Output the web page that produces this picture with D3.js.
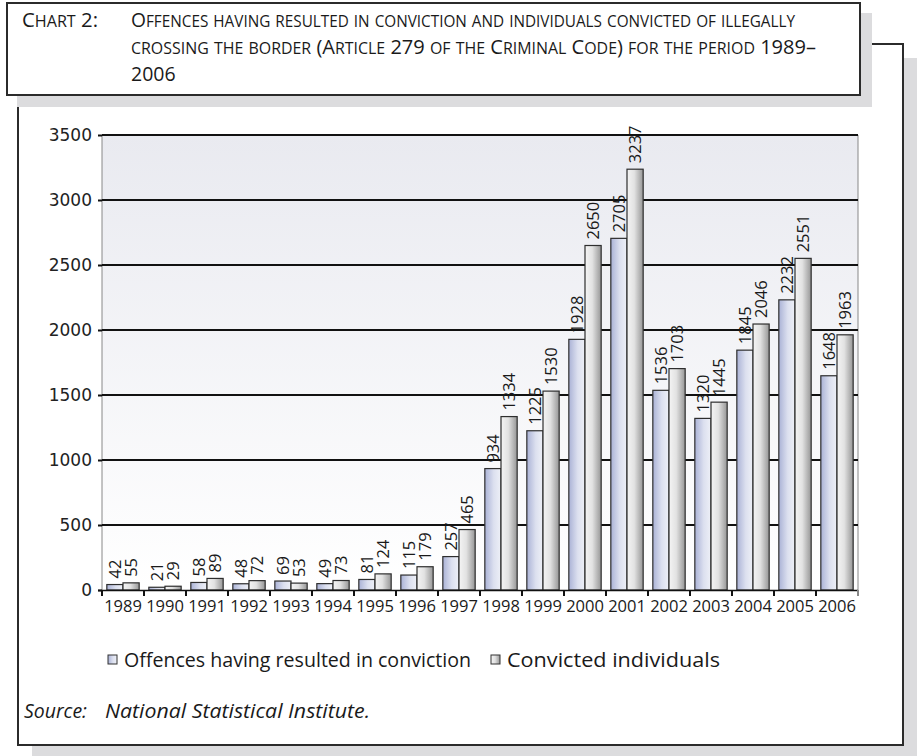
<!DOCTYPE html>
<html>
<head>
<meta charset="utf-8">
<script src="https://cdn.jsdelivr.net/npm/d3@7/dist/d3.min.js"></script>
<style>
  html, body { margin: 0; padding: 0; background: #fff; }
  svg { display: block; }
</style>
</head>
<body>
<svg id="chart" width="917" height="756"></svg>
<script>
// Years shown on the category axis
const years = ["1989","1990","1991","1992","1993","1994","1995","1996","1997",
               "1998","1999","2000","2001","2002","2003","2004","2005","2006"];
// Offences having resulted in conviction
const offences = [42, 21, 58, 48, 69, 49, 81, 115, 257, 934, 1225, 1928, 2705, 1536, 1320, 1845, 2232, 1648];
// Convicted individuals
const convicted = [55, 29, 89, 72, 53, 73, 124, 179, 465, 1334, 1530, 2650, 3237, 1703, 1445, 2046, 2551, 1963];
// Series names and value-axis ticks
const seriesNames = ["Offences having resulted in conviction", "Convicted individuals"];
const yTicks = [0, 500, 1000, 1500, 2000, 2500, 3000, 3500];
const titleLabel = "Chart 2:";
const titleLines = [
  "Offences having resulted in conviction and individuals convicted of illegally",
  "crossing the border (Article 279 of the Criminal Code) for the period 1989–",
  "2006"
];

const svg = d3.select("#chart");
const defs = svg.append("defs");

// gradients: plot background, bluish bars, grey bars
const bg = defs.append("linearGradient").attr("id", "plotBg")
  .attr("x1", 0).attr("y1", 0).attr("x2", 0).attr("y2", 1);
bg.append("stop").attr("offset", "0%").attr("stop-color", "#e9eaf0");
bg.append("stop").attr("offset", "100%").attr("stop-color", "#ffffff");

const gBlue = defs.append("linearGradient").attr("id", "barBlue")
  .attr("x1", 0).attr("y1", 0).attr("x2", 1).attr("y2", 0);
gBlue.append("stop").attr("offset", "0%").attr("stop-color", "#aab2d6");
gBlue.append("stop").attr("offset", "55%").attr("stop-color", "#dce0ef");
gBlue.append("stop").attr("offset", "100%").attr("stop-color", "#eef0f7");

const gGrey = defs.append("linearGradient").attr("id", "barGrey")
  .attr("x1", 0).attr("y1", 0).attr("x2", 1).attr("y2", 0);
gGrey.append("stop").attr("offset", "0%").attr("stop-color", "#f4f4f4");
gGrey.append("stop").attr("offset", "45%").attr("stop-color", "#e2e2e2");
gGrey.append("stop").attr("offset", "100%").attr("stop-color", "#969696");

// outer frame with drop shadow
svg.append("rect").attr("x", 32).attr("y", 58).attr("width", 885).attr("height", 698)
  .attr("fill", "#dcdcde");
svg.append("rect").attr("x", 18).attr("y", 44).attr("width", 885).attr("height", 701)
  .attr("fill", "#fff").attr("stroke", "#2b2b2b").attr("stroke-width", 2);

// title box with drop shadow
svg.append("rect").attr("x", 17).attr("y", 13).attr("width", 855).attr("height", 94)
  .attr("fill", "#dcdcde");
svg.append("rect").attr("x", 7).attr("y", 3).attr("width", 853).attr("height", 92)
  .attr("fill", "#fff").attr("stroke", "#2b2b2b").attr("stroke-width", 2);

// small-caps title: lowercase runs set as reduced capitals
const titleFont = "'Open Sans', 'Noto Sans', sans-serif";
const capSize = 19.5, smallSize = 15.5, lineGap = 26.8;
function smallCaps(sel, str) {
  const runs = str.match(/[a-z]+|[^a-z]+/g) || [];
  runs.forEach(r => {
    const lower = /^[a-z]/.test(r);
    sel.append("tspan")
      .style("font-size", (lower ? smallSize : capSize) + "px")
      .text(lower ? r.toUpperCase() : r);
  });
}
const t0 = svg.append("text").attr("x", 22).attr("y", 27)
  .style("font-family", titleFont).attr("fill", "#1a1a1a")
  .attr("textLength", 76).attr("lengthAdjust", "spacingAndGlyphs");
smallCaps(t0, titleLabel);
const titleWidths = [664, 685, null];
titleLines.forEach((t, i) => {
  const el = svg.append("text").attr("x", 131).attr("y", 27 + i * lineGap)
    .style("font-family", titleFont).attr("fill", "#1a1a1a");
  smallCaps(el, t);
  if (titleWidths[i]) el.attr("textLength", titleWidths[i]).attr("lengthAdjust", "spacingAndGlyphs");
});

// plot area
const plot = { left: 102, right: 858, top: 135, bottom: 590 };
const x = d3.scaleBand().domain(years).range([plot.left, plot.right]).padding(0);
const y = d3.scaleLinear().domain([0, 3500]).range([plot.bottom, plot.top]);
const barW = x.bandwidth() * 0.385;

svg.append("rect").attr("x", plot.left).attr("y", plot.top)
  .attr("width", plot.right - plot.left).attr("height", plot.bottom - plot.top)
  .attr("fill", "url(#plotBg)");
svg.append("line").attr("x1", plot.left).attr("x2", plot.left)
  .attr("y1", plot.top).attr("y2", plot.bottom).attr("stroke", "#888").attr("stroke-width", 1);
svg.append("line").attr("x1", plot.right).attr("x2", plot.right)
  .attr("y1", plot.top).attr("y2", plot.bottom).attr("stroke", "#888").attr("stroke-width", 1);

// value axis with gridlines
const yAxis = svg.append("g").attr("transform", `translate(${plot.left},0)`)
  .call(d3.axisLeft(y).tickValues(yTicks).tickSize(4).tickPadding(6).tickFormat(d3.format("d")));
yAxis.select(".domain").remove();
yAxis.selectAll(".tick line").attr("stroke", "#111").attr("stroke-width", 2);
yAxis.selectAll(".tick text")
  .style("font-family", "'DejaVu Sans', sans-serif").style("font-size", "17px").attr("fill", "#222");

svg.append("g").selectAll("line").data(yTicks.filter(d => d > 0)).join("line")
  .attr("x1", plot.left).attr("x2", plot.right)
  .attr("y1", d => y(d)).attr("y2", d => y(d))
  .attr("stroke", "#111").attr("stroke-width", 2);

// bars
const groups = svg.append("g").selectAll("g").data(years).join("g");
const cx = d => x(d) + x.bandwidth() / 2;
groups.append("rect")
  .attr("x", d => cx(d) - barW)
  .attr("y", (d, i) => y(offences[i]))
  .attr("width", barW)
  .attr("height", (d, i) => y(0) - y(offences[i]))
  .attr("fill", "url(#barBlue)").attr("stroke", "#2e2e2e").attr("stroke-width", 1.2);
groups.append("rect")
  .attr("x", d => cx(d))
  .attr("y", (d, i) => y(convicted[i]))
  .attr("width", barW)
  .attr("height", (d, i) => y(0) - y(convicted[i]))
  .attr("fill", "url(#barGrey)").attr("stroke", "#2e2e2e").attr("stroke-width", 1.2);

// vertical value labels
const labelFont = "'Open Sans', 'Noto Sans', sans-serif";
function addLabels(vals, offset) {
  groups.append("text")
    .attr("transform", (d, i) => `translate(${cx(d) + offset},${y(vals[i]) - 6}) rotate(-90)`)
    .attr("dy", "0.36em")
    .style("font-family", labelFont).style("font-size", "16.5px").attr("fill", "#1a1a1a")
    .text((d, i) => vals[i]);
}
addLabels(offences, -barW / 2);
addLabels(convicted, barW / 2);

// category axis
const xAxis = svg.append("g").attr("transform", `translate(0,${plot.bottom})`)
  .call(d3.axisBottom(x).tickSize(0).tickPadding(10));
xAxis.select(".domain").attr("stroke", "#111").attr("stroke-width", 1.5)
  .attr("d", `M${plot.left - 4},0.5H${plot.right}`);
xAxis.selectAll(".tick text")
  .style("font-family", labelFont).style("font-size", "16.5px").attr("fill", "#1a1a1a");
svg.append("g").selectAll("line").data(years.concat(["end"])).join("line")
  .attr("x1", d => d === "end" ? plot.right : x(d))
  .attr("x2", d => d === "end" ? plot.right : x(d))
  .attr("y1", plot.bottom).attr("y2", plot.bottom + 6)
  .attr("stroke", (d) => d === "end" ? "#888" : "#111").attr("stroke-width", 2);

// legend
const legendItems = [
  { name: seriesNames[0], x: 108, fill: "url(#barBlue)", w: 347 },
  { name: seriesNames[1], x: 491, fill: "url(#barGrey)", w: 213 }
];
const lg = svg.append("g").selectAll("g").data(legendItems).join("g")
  .attr("transform", d => `translate(${d.x},660)`);
lg.append("rect").attr("x", 0).attr("y", -5).attr("width", 9).attr("height", 9)
  .attr("fill", d => d.fill).attr("stroke", "#333").attr("stroke-width", 1);
lg.append("text").attr("x", 16).attr("y", 0).attr("dy", "0.35em")
  .style("font-family", labelFont).style("font-size", "20px").attr("fill", "#1a1a1a")
  .attr("textLength", d => d.w).attr("lengthAdjust", "spacingAndGlyphs")
  .text(d => d.name);

// source note
svg.append("text").attr("x", 24).attr("y", 718)
  .style("font-family", labelFont).style("font-size", "20px").style("font-style", "italic")
  .attr("fill", "#1a1a1a").attr("textLength", 63).attr("lengthAdjust", "spacingAndGlyphs")
  .text("Source:");
svg.append("text").attr("x", 105).attr("y", 718)
  .style("font-family", labelFont).style("font-size", "20px").style("font-style", "italic")
  .attr("fill", "#1a1a1a").attr("textLength", 265).attr("lengthAdjust", "spacingAndGlyphs")
  .text("National Statistical Institute.");
</script>
</body>
</html>
